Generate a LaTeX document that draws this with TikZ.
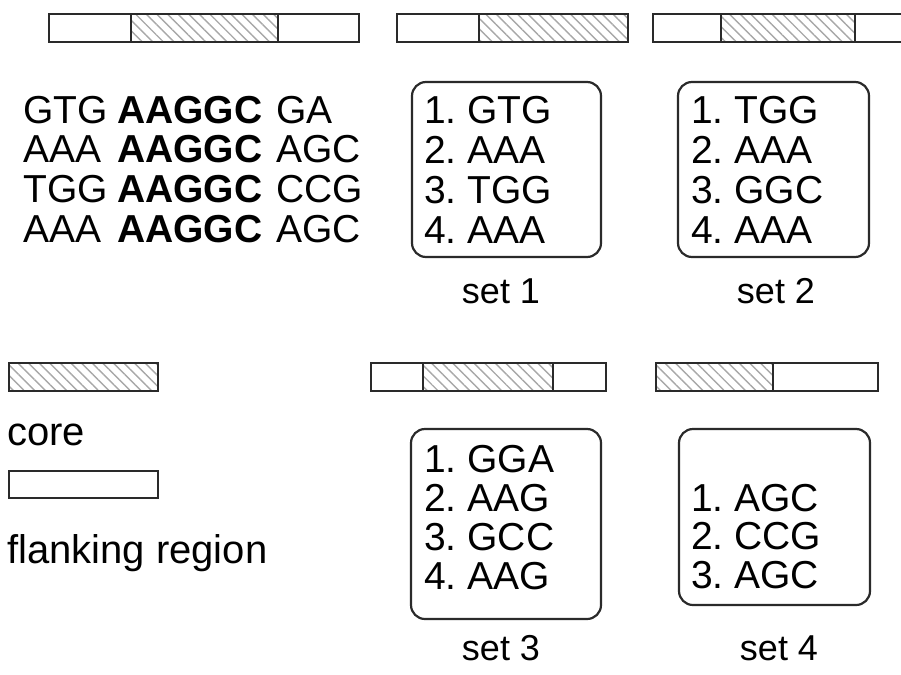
\documentclass[tikz,border=0pt]{standalone}
\usepackage{fontspec}
\setmainfont{Liberation Sans}
\usetikzlibrary{patterns.meta}
\definecolor{edge}{HTML}{2A2A2A}
\definecolor{hatch}{HTML}{A8A8A8}
\frenchspacing

\begin{document}
\begin{tikzpicture}[x=1pt,y=-1pt,
  flank/.style={draw=edge,line width=2.4pt,fill=white},
  coreseg/.style={draw=edge,line width=2.4pt,
    pattern={Lines[angle=-45,distance=7.5pt,line width=1.4pt]},pattern color=hatch},
  setbox/.style={draw=edge,line width=2.2pt,rounded corners=14pt},
  seq/.style={anchor=base west,inner sep=0pt,font=\fontsize{39}{40}\selectfont},
  item/.style={anchor=base west,inner sep=0pt,font=\fontsize{39}{40}\selectfont},
  setlabel/.style={anchor=base,inner sep=0pt,font=\fontsize{36}{40}\selectfont},
  legend/.style={anchor=base west,inner sep=0pt,font=\fontsize{40}{42}\selectfont}]
\useasboundingbox (0,0) rectangle (901,674);

% ---- top row: flank / core layouts ----
\draw[flank]   (49,14)  rectangle (131,42);
\draw[coreseg] (131,14) rectangle (278,42);
\draw[flank]   (278,14) rectangle (359,42);

\draw[flank]   (397,14) rectangle (479,42);
\draw[coreseg] (479,14) rectangle (628,42);

\draw[flank]   (653,14) rectangle (721,42);
\draw[coreseg] (721,14) rectangle (855,42);
\draw[flank]   (855,14) rectangle (920,42);

% ---- aligned sequences ----
\foreach \a/\c [count=\i] in {GTG/GA,AAA/AGC,TGG/CCG,AAA/AGC}{
  \node[seq] (left-\i)  at (23,{123+39.7*(\i-1)})  {\a};
  \node[seq] (core-\i)  at (117,{123+39.7*(\i-1)}) {\textbf{AAGGC}};
  \node[seq] (right-\i) at (276,{123+39.7*(\i-1)}) {\c};
}

% ---- set 1 ----
\draw[setbox] (412,82) rectangle (601,257);
\foreach \t [count=\i] in {1. GTG,2. AAA,3. TGG,4. AAA}
  \node[item] (s1-\i) at (424,{123+40*(\i-1)}) {\t};
\node[setlabel] (set1) at (501,303) {set 1};

% ---- set 2 ----
\draw[setbox] (678,82) rectangle (869,257);
\foreach \t [count=\i] in {1. TGG,2. AAA,3. GGC,4. AAA}
  \node[item] (s2-\i) at (691,{123+40*(\i-1)}) {\t};
\node[setlabel] (set2) at (776,303) {set 2};

% ---- legend ----
\draw[coreseg] (9,363) rectangle (158,391);
\node[legend] (lcore) at (7,445) {core};
\draw[flank] (9,471) rectangle (158,498);
\node[legend] (lflank) at (7,563) {flanking region};

% ---- bottom row layouts ----
\draw[flank]   (371,363) rectangle (423,391);
\draw[coreseg] (423,363) rectangle (553,391);
\draw[flank]   (553,363) rectangle (606,391);

\draw[coreseg] (656,363) rectangle (773,391);
\draw[flank]   (773,363) rectangle (878,391);

% ---- set 3 ----
\draw[setbox] (411,429) rectangle (601,619);
\foreach \t [count=\i] in {1. GGA,2. AAG,3. GCC,4. AAG}
  \node[item] (s3-\i) at (424,{472+39*(\i-1)}) {\t};
\node[setlabel] (set3) at (501,660) {set 3};

% ---- set 4 ----
\draw[setbox] (679,429) rectangle (870,605);
\foreach \t [count=\i] in {1. AGC,2. CCG,3. AGC}
  \node[item] (s4-\i) at (691,{511+38.5*(\i-1)}) {\t};
\node[setlabel] (set4) at (779,660) {set 4};
\end{tikzpicture}
\end{document}
